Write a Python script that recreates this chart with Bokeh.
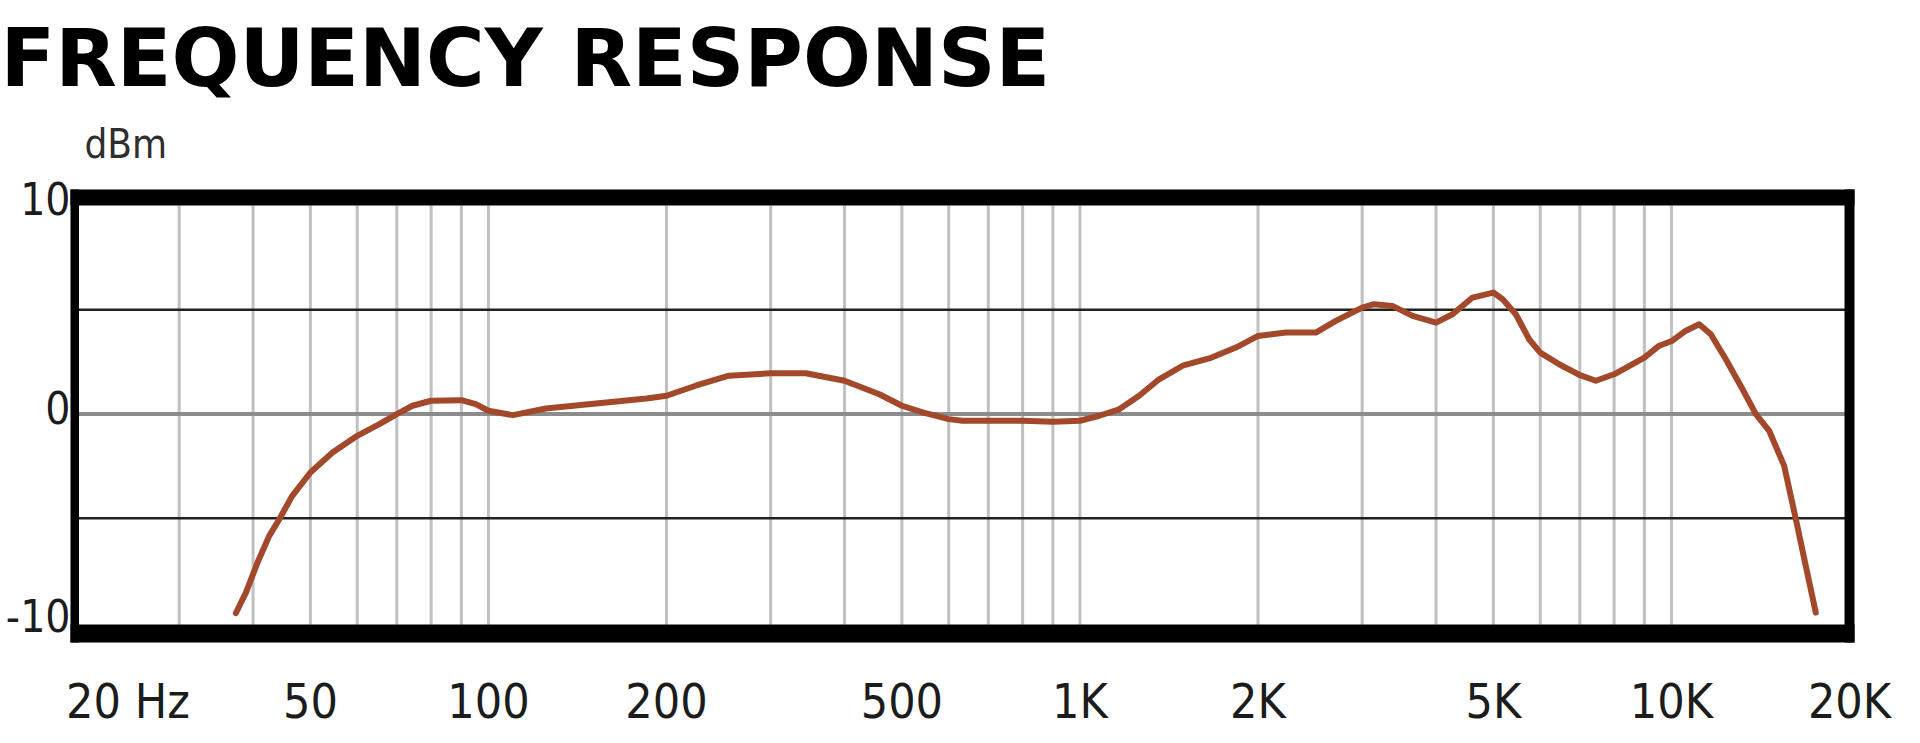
from bokeh.plotting import figure
from bokeh.models import BoxAnnotation, Label, LabelSet, Range1d, ColumnDataSource
from bokeh.core.properties import value
from bokeh.embed import file_html
from bokeh.resources import INLINE

# ---- data ----
freq_hz = [37.4, 38.9, 40.7, 42.6, 44.3, 46.6, 50.0, 54.5, 60, 65.4, 70, 74.4, 80, 90, 95.2,
           100, 110, 125, 152, 185, 200, 224, 255, 300, 344, 400, 458, 500, 542, 600, 633,
           700, 800, 900, 1000, 1078, 1165, 1259, 1361, 1491, 1654, 1835, 2000, 2228, 2505,
           2707, 3000, 3143, 3375, 3650, 4000, 4265, 4610, 5000, 5183, 5456, 5746, 6000,
           6459, 7000, 7450, 8000, 9000, 9535, 10040, 10577, 11140, 11656, 12357, 13190,
           13890, 14630, 15510, 16230, 16870, 17540]
level_dbm = [-9.55, -8.56, -7.12, -5.84, -5.04, -3.92, -2.80, -1.84, -1.04, -0.48, 0.0, 0.40,
             0.64, 0.67, 0.48, 0.16, -0.05, 0.27, 0.51, 0.75, 0.88, 1.36, 1.84, 1.96, 1.96,
             1.60, 0.95, 0.40, 0.08, -0.24, -0.32, -0.32, -0.32, -0.37, -0.32, -0.08, 0.23,
             0.88, 1.67, 2.32, 2.67, 3.19, 3.75, 3.91, 3.91, 4.47, 5.11, 5.27, 5.19, 4.71,
             4.39, 4.79, 5.59, 5.83, 5.51, 4.79, 3.59, 2.95, 2.39, 1.87, 1.60, 1.91, 2.71,
             3.28, 3.52, 4.0, 4.31, 3.83, 2.63, 1.19, 0.0, -0.80, -2.48, -5.04, -7.28, -9.52]

x_min, x_max = 20, 20000          # axis extent (Hz)
y_min, y_max = -10, 10            # axis extent (dBm)
x_tick_values = [50, 100, 200, 500, 1000, 2000, 5000, 10000, 20000]
x_tick_labels = ["50", "100", "200", "500", "1K", "2K", "5K", "10K", "20K"]
x_first_values = [20]
x_first_labels = ["20 Hz"]
y_tick_values = [-10, 0, 10]
y_tick_labels = ["-10", "0", "10"]
y_unit_label = "dBm"
title_text = "FREQUENCY RESPONSE"
grid_freqs = [30, 40, 50, 60, 70, 80, 90, 100, 200, 300, 400, 500, 600, 700, 800, 900,
              1000, 2000, 3000, 4000, 5000, 6000, 7000, 8000, 9000, 10000]
minor_db_lines = [-5, 5]
zero_db_line = [0]

# ---- layout: the whole canvas is the frame ----
W, H = 1904, 727
PX_PER_DECADE = 591.5            # horizontal scale
PX_PER_DB = 20.85                # vertical scale
X20_PX = 74.5                    # canvas x of x_min
Y0_PX = 413.6                    # canvas y (from top) of 0 dB


def fx(px):   # canvas px -> Hz
    return x_min * 10 ** ((px - X20_PX) / PX_PER_DECADE)


def fy(py):   # canvas px from top -> dB
    return (Y0_PX - py) / PX_PER_DB


p = figure(width=W, height=H, x_axis_type="log",
           x_range=Range1d(fx(0), fx(W)), y_range=Range1d(fy(H), fy(0)),
           x_axis_location=None, y_axis_location=None,
           output_backend="svg", toolbar_location=None, title=None, min_border=0)
p.outline_line_color = None
p.background_fill_color = "white"
p.border_fill_color = "white"
p.grid.visible = False

NARROW = "DejaVu Sans Condensed"
TICK_COLOR = "#1c1c1c"

# grid lines
p.segment(x0=grid_freqs, x1=grid_freqs, y0=[y_min - 0.1] * len(grid_freqs),
          y1=[y_max] * len(grid_freqs), line_color="#c0c0c0", line_width=3)
p.segment(x0=[x_min] * 2, x1=[x_max] * 2, y0=minor_db_lines, y1=minor_db_lines,
          line_color="#1f2319", line_width=2.5)
p.segment(x0=[x_min], x1=[x_max], y0=zero_db_line, y1=zero_db_line,
          line_color="#8c8c8c", line_width=4)

# curve
p.line(freq_hz, level_dbm, line_color="#a3482a", line_width=6,
       line_join="round", line_cap="round")

# thick frame (outer edges in canvas px)
L_OUT, R_OUT, T_OUT, B_OUT = 70, 1854, 189, 642
for kw in (dict(left=fx(L_OUT), right=fx(R_OUT), bottom=y_max, top=fy(T_OUT)),
           dict(left=fx(L_OUT), right=fx(R_OUT), bottom=fy(B_OUT), top=fy(624)),
           dict(left=fx(L_OUT), right=fx(78.5), bottom=fy(B_OUT), top=fy(T_OUT)),
           dict(left=fx(1844), right=fx(R_OUT), bottom=fy(B_OUT), top=fy(T_OUT))):
    p.add_layout(BoxAnnotation(fill_color="black", fill_alpha=1.0, line_color=None, **kw))

# x tick labels
xsrc = ColumnDataSource(dict(x=x_tick_values, text=x_tick_labels))
p.add_layout(LabelSet(source=xsrc, x="x", y=10, y_units="screen", text="text",
                      text_font=value(NARROW), text_font_size=value("48px"),
                      text_color=TICK_COLOR, text_align="center",
                      text_baseline="alphabetic"))
x0src = ColumnDataSource(dict(x=x_first_values, text=x_first_labels))
p.add_layout(LabelSet(source=x0src, x="x", y=10, y_units="screen", x_offset=-9, text="text",
                      text_font=value(NARROW), text_font_size=value("48px"),
                      text_color=TICK_COLOR, text_align="left",
                      text_baseline="alphabetic"))
# y tick labels
ysrc = ColumnDataSource(dict(y=y_tick_values, text=y_tick_labels))
p.add_layout(LabelSet(source=ysrc, x=70, x_units="screen", y="y", y_offset=7, text="text",
                      text_font=value(NARROW), text_font_size=value("44px"),
                      text_color=TICK_COLOR, text_align="right", text_baseline="middle"))

# unit label and title
p.add_layout(Label(x=84, y=H - 152 + 9, x_units="screen", y_units="screen", text=y_unit_label,
                   text_font=NARROW, text_font_size="40px", text_color="#2e2e2e",
                   text_baseline="alphabetic", text_align="left"))
p.add_layout(Label(x=0, y=H - 77 + 19, x_units="screen", y_units="screen", text=title_text,
                   text_font="DejaVu Sans", text_font_style="bold", text_font_size="80px",
                   text_color="black", text_baseline="alphabetic", text_align="left"))

open("out.html", "w").write(file_html(p, INLINE))
